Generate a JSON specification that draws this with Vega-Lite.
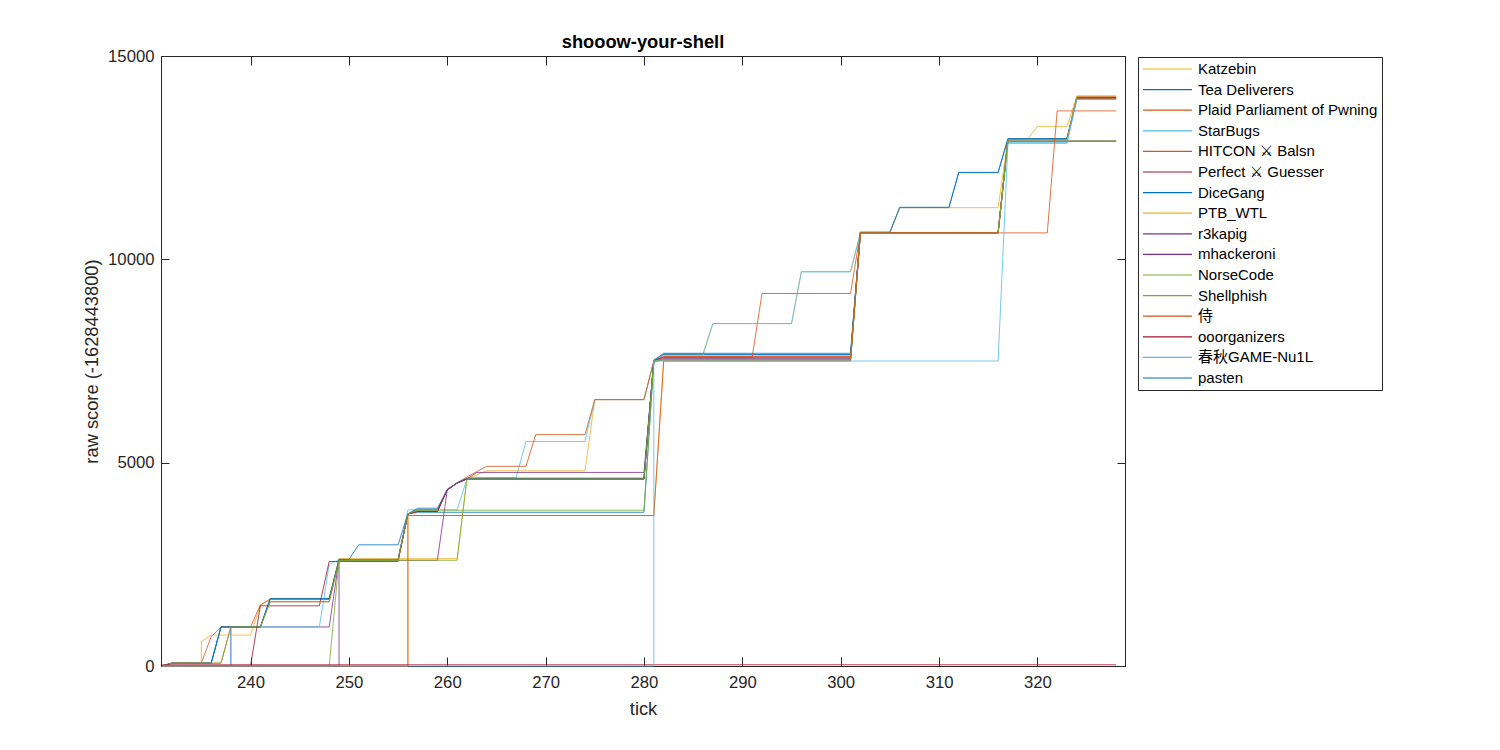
{
"$schema":"https://vega.github.io/schema/vega-lite/v6.json",
"width":964,"height":610,
"autosize":{"type":"none"},
"padding":{"left":161,"top":56,"right":375,"bottom":84},
"background":"white",
"title":{"text":"shooow-your-shell","fontSize":18.3,"fontWeight":"bold","font":"Liberation Sans, DejaVu Sans, sans-serif","color":"#000000","offset":-4,"anchor":"middle"},
"data":{"values":[
{"team":"pasten","i":0,"t":231,"v":0},{"team":"pasten","i":1,"t":232,"v":70},{"team":"pasten","i":2,"t":236,"v":70},{"team":"pasten","i":3,"t":237,"v":960},{"team":"pasten","i":4,"t":241,"v":960},{"team":"pasten","i":5,"t":242,"v":1650},{"team":"pasten","i":6,"t":248,"v":1650},{"team":"pasten","i":7,"t":249,"v":2620},{"team":"pasten","i":8,"t":255,"v":2620},{"team":"pasten","i":9,"t":256,"v":3740},{"team":"pasten","i":10,"t":257,"v":3780},{"team":"pasten","i":11,"t":280,"v":3780},{"team":"pasten","i":12,"t":281,"v":7500},{"team":"pasten","i":13,"t":282,"v":7650},{"team":"pasten","i":14,"t":301,"v":7650},{"team":"pasten","i":15,"t":302,"v":10660},{"team":"pasten","i":16,"t":316,"v":10660},{"team":"pasten","i":17,"t":317,"v":12950},{"team":"pasten","i":18,"t":323,"v":12950},{"team":"pasten","i":19,"t":324,"v":13960},{"team":"pasten","i":20,"t":328,"v":13960},
{"team":"r3kapig","i":0,"t":231,"v":0},{"team":"r3kapig","i":1,"t":238,"v":0},{"team":"r3kapig","i":2,"t":238,"v":960},{"team":"r3kapig","i":3,"t":248,"v":960},{"team":"r3kapig","i":4,"t":249,"v":2620},{"team":"r3kapig","i":5,"t":255,"v":2620},{"team":"r3kapig","i":6,"t":256,"v":3740},{"team":"r3kapig","i":7,"t":257,"v":3800},{"team":"r3kapig","i":8,"t":259,"v":3800},{"team":"r3kapig","i":9,"t":260,"v":4330},{"team":"r3kapig","i":10,"t":261,"v":4500},{"team":"r3kapig","i":11,"t":262,"v":4600},{"team":"r3kapig","i":12,"t":280,"v":4600},{"team":"r3kapig","i":13,"t":281,"v":7480},{"team":"r3kapig","i":14,"t":282,"v":7530},{"team":"r3kapig","i":15,"t":301,"v":7530},{"team":"r3kapig","i":16,"t":302,"v":10640},{"team":"r3kapig","i":17,"t":316,"v":10640},{"team":"r3kapig","i":18,"t":317,"v":12900},{"team":"r3kapig","i":19,"t":328,"v":12900},
{"team":"Tea Deliverers","i":0,"t":231,"v":0},{"team":"Tea Deliverers","i":1,"t":232,"v":70},{"team":"Tea Deliverers","i":2,"t":236,"v":70},{"team":"Tea Deliverers","i":3,"t":237,"v":960},{"team":"Tea Deliverers","i":4,"t":241,"v":960},{"team":"Tea Deliverers","i":5,"t":242,"v":1650},{"team":"Tea Deliverers","i":6,"t":248,"v":1650},{"team":"Tea Deliverers","i":7,"t":249,"v":2620},{"team":"Tea Deliverers","i":8,"t":255,"v":2620},{"team":"Tea Deliverers","i":9,"t":256,"v":3740},{"team":"Tea Deliverers","i":10,"t":257,"v":3850},{"team":"Tea Deliverers","i":11,"t":259,"v":3850},{"team":"Tea Deliverers","i":12,"t":260,"v":4330},{"team":"Tea Deliverers","i":13,"t":261,"v":4500},{"team":"Tea Deliverers","i":14,"t":262,"v":4600},{"team":"Tea Deliverers","i":15,"t":280,"v":4600},{"team":"Tea Deliverers","i":16,"t":281,"v":7520},{"team":"Tea Deliverers","i":17,"t":282,"v":7660},{"team":"Tea Deliverers","i":18,"t":301,"v":7660},{"team":"Tea Deliverers","i":19,"t":302,"v":10660},{"team":"Tea Deliverers","i":20,"t":305,"v":10660},{"team":"Tea Deliverers","i":21,"t":306,"v":11270},{"team":"Tea Deliverers","i":22,"t":311,"v":11270},{"team":"Tea Deliverers","i":23,"t":312,"v":12130},{"team":"Tea Deliverers","i":24,"t":316,"v":12130},{"team":"Tea Deliverers","i":25,"t":317,"v":12960},{"team":"Tea Deliverers","i":26,"t":323,"v":12960},{"team":"Tea Deliverers","i":27,"t":324,"v":13960},{"team":"Tea Deliverers","i":28,"t":328,"v":13960},
{"team":"Katzebin","i":0,"t":231,"v":0},{"team":"Katzebin","i":1,"t":232,"v":70},{"team":"Katzebin","i":2,"t":235,"v":70},{"team":"Katzebin","i":3,"t":235,"v":600},{"team":"Katzebin","i":4,"t":236,"v":760},{"team":"Katzebin","i":5,"t":240,"v":760},{"team":"Katzebin","i":6,"t":241,"v":1500},{"team":"Katzebin","i":7,"t":242,"v":1650},{"team":"Katzebin","i":8,"t":248,"v":1650},{"team":"Katzebin","i":9,"t":249,"v":2640},{"team":"Katzebin","i":10,"t":261,"v":2640},{"team":"Katzebin","i":11,"t":262,"v":4600},{"team":"Katzebin","i":12,"t":264,"v":4800},{"team":"Katzebin","i":13,"t":274,"v":4800},{"team":"Katzebin","i":14,"t":275,"v":6550},{"team":"Katzebin","i":15,"t":280,"v":6550},{"team":"Katzebin","i":16,"t":281,"v":7500},{"team":"Katzebin","i":17,"t":282,"v":7640},{"team":"Katzebin","i":18,"t":286,"v":7640},{"team":"Katzebin","i":19,"t":287,"v":8420},{"team":"Katzebin","i":20,"t":295,"v":8420},{"team":"Katzebin","i":21,"t":296,"v":9700},{"team":"Katzebin","i":22,"t":301,"v":9700},{"team":"Katzebin","i":23,"t":302,"v":10650},{"team":"Katzebin","i":24,"t":305,"v":10650},{"team":"Katzebin","i":25,"t":306,"v":11270},{"team":"Katzebin","i":26,"t":316,"v":11270},{"team":"Katzebin","i":27,"t":317,"v":12950},{"team":"Katzebin","i":28,"t":319,"v":12950},{"team":"Katzebin","i":29,"t":320,"v":13270},{"team":"Katzebin","i":30,"t":323,"v":13270},{"team":"Katzebin","i":31,"t":324,"v":14010},{"team":"Katzebin","i":32,"t":328,"v":14010},
{"team":"Plaid Parliament of Pwning","i":0,"t":231,"v":0},{"team":"Plaid Parliament of Pwning","i":1,"t":232,"v":70},{"team":"Plaid Parliament of Pwning","i":2,"t":235,"v":70},{"team":"Plaid Parliament of Pwning","i":3,"t":236,"v":720},{"team":"Plaid Parliament of Pwning","i":4,"t":237,"v":960},{"team":"Plaid Parliament of Pwning","i":5,"t":240,"v":960},{"team":"Plaid Parliament of Pwning","i":6,"t":241,"v":1500},{"team":"Plaid Parliament of Pwning","i":7,"t":242,"v":1640},{"team":"Plaid Parliament of Pwning","i":8,"t":248,"v":1640},{"team":"Plaid Parliament of Pwning","i":9,"t":249,"v":2610},{"team":"Plaid Parliament of Pwning","i":10,"t":255,"v":2610},{"team":"Plaid Parliament of Pwning","i":11,"t":256,"v":3740},{"team":"Plaid Parliament of Pwning","i":12,"t":257,"v":3820},{"team":"Plaid Parliament of Pwning","i":13,"t":259,"v":3820},{"team":"Plaid Parliament of Pwning","i":14,"t":260,"v":4350},{"team":"Plaid Parliament of Pwning","i":15,"t":261,"v":4500},{"team":"Plaid Parliament of Pwning","i":16,"t":262,"v":4600},{"team":"Plaid Parliament of Pwning","i":17,"t":280,"v":4600},{"team":"Plaid Parliament of Pwning","i":18,"t":281,"v":7500},{"team":"Plaid Parliament of Pwning","i":19,"t":282,"v":7600},{"team":"Plaid Parliament of Pwning","i":20,"t":291,"v":7600},{"team":"Plaid Parliament of Pwning","i":21,"t":292,"v":9160},{"team":"Plaid Parliament of Pwning","i":22,"t":301,"v":9160},{"team":"Plaid Parliament of Pwning","i":23,"t":302,"v":10660},{"team":"Plaid Parliament of Pwning","i":24,"t":316,"v":10660},{"team":"Plaid Parliament of Pwning","i":25,"t":317,"v":12950},{"team":"Plaid Parliament of Pwning","i":26,"t":323,"v":12950},{"team":"Plaid Parliament of Pwning","i":27,"t":324,"v":13970},{"team":"Plaid Parliament of Pwning","i":28,"t":328,"v":13970},
{"team":"StarBugs","i":0,"t":231,"v":0},{"team":"StarBugs","i":1,"t":238,"v":0},{"team":"StarBugs","i":2,"t":238,"v":960},{"team":"StarBugs","i":3,"t":247,"v":960},{"team":"StarBugs","i":4,"t":248,"v":2500},{"team":"StarBugs","i":5,"t":249,"v":2620},{"team":"StarBugs","i":6,"t":255,"v":2620},{"team":"StarBugs","i":7,"t":256,"v":3840},{"team":"StarBugs","i":8,"t":261,"v":3840},{"team":"StarBugs","i":9,"t":262,"v":4600},{"team":"StarBugs","i":10,"t":263,"v":4630},{"team":"StarBugs","i":11,"t":267,"v":4630},{"team":"StarBugs","i":12,"t":268,"v":5520},{"team":"StarBugs","i":13,"t":274,"v":5520},{"team":"StarBugs","i":14,"t":275,"v":6550},{"team":"StarBugs","i":15,"t":280,"v":6550},{"team":"StarBugs","i":16,"t":281,"v":7500},{"team":"StarBugs","i":17,"t":282,"v":7680},{"team":"StarBugs","i":18,"t":286,"v":7680},{"team":"StarBugs","i":19,"t":287,"v":8420},{"team":"StarBugs","i":20,"t":295,"v":8420},{"team":"StarBugs","i":21,"t":296,"v":9690},{"team":"StarBugs","i":22,"t":301,"v":9690},{"team":"StarBugs","i":23,"t":302,"v":10650},{"team":"StarBugs","i":24,"t":316,"v":10650},{"team":"StarBugs","i":25,"t":317,"v":12870},{"team":"StarBugs","i":26,"t":323,"v":12870},{"team":"StarBugs","i":27,"t":324,"v":13940},{"team":"StarBugs","i":28,"t":328,"v":13940},
{"team":"HITCON ⚔ Balsn","i":0,"t":231,"v":0},{"team":"HITCON ⚔ Balsn","i":1,"t":232,"v":70},{"team":"HITCON ⚔ Balsn","i":2,"t":237,"v":70},{"team":"HITCON ⚔ Balsn","i":3,"t":238,"v":960},{"team":"HITCON ⚔ Balsn","i":4,"t":241,"v":960},{"team":"HITCON ⚔ Balsn","i":5,"t":242,"v":1580},{"team":"HITCON ⚔ Balsn","i":6,"t":248,"v":1580},{"team":"HITCON ⚔ Balsn","i":7,"t":249,"v":2600},{"team":"HITCON ⚔ Balsn","i":8,"t":255,"v":2600},{"team":"HITCON ⚔ Balsn","i":9,"t":256,"v":3740},{"team":"HITCON ⚔ Balsn","i":10,"t":257,"v":3800},{"team":"HITCON ⚔ Balsn","i":11,"t":259,"v":3800},{"team":"HITCON ⚔ Balsn","i":12,"t":260,"v":4330},{"team":"HITCON ⚔ Balsn","i":13,"t":261,"v":4500},{"team":"HITCON ⚔ Balsn","i":14,"t":262,"v":4650},{"team":"HITCON ⚔ Balsn","i":15,"t":264,"v":4910},{"team":"HITCON ⚔ Balsn","i":16,"t":268,"v":4910},{"team":"HITCON ⚔ Balsn","i":17,"t":269,"v":5690},{"team":"HITCON ⚔ Balsn","i":18,"t":274,"v":5690},{"team":"HITCON ⚔ Balsn","i":19,"t":275,"v":6550},{"team":"HITCON ⚔ Balsn","i":20,"t":280,"v":6550},{"team":"HITCON ⚔ Balsn","i":21,"t":281,"v":7500},{"team":"HITCON ⚔ Balsn","i":22,"t":282,"v":7610},{"team":"HITCON ⚔ Balsn","i":23,"t":301,"v":7610},{"team":"HITCON ⚔ Balsn","i":24,"t":302,"v":10660},{"team":"HITCON ⚔ Balsn","i":25,"t":316,"v":10660},{"team":"HITCON ⚔ Balsn","i":26,"t":317,"v":12950},{"team":"HITCON ⚔ Balsn","i":27,"t":323,"v":12950},{"team":"HITCON ⚔ Balsn","i":28,"t":324,"v":13950},{"team":"HITCON ⚔ Balsn","i":29,"t":328,"v":13950},
{"team":"Perfect ⚔ Guesser","i":0,"t":231,"v":0},{"team":"Perfect ⚔ Guesser","i":1,"t":240,"v":0},{"team":"Perfect ⚔ Guesser","i":2,"t":241,"v":1480},{"team":"Perfect ⚔ Guesser","i":3,"t":247,"v":1480},{"team":"Perfect ⚔ Guesser","i":4,"t":248,"v":2570},{"team":"Perfect ⚔ Guesser","i":5,"t":255,"v":2570},{"team":"Perfect ⚔ Guesser","i":6,"t":256,"v":3740},{"team":"Perfect ⚔ Guesser","i":7,"t":257,"v":3800},{"team":"Perfect ⚔ Guesser","i":8,"t":259,"v":3800},{"team":"Perfect ⚔ Guesser","i":9,"t":260,"v":4330},{"team":"Perfect ⚔ Guesser","i":10,"t":261,"v":4500},{"team":"Perfect ⚔ Guesser","i":11,"t":262,"v":4600},{"team":"Perfect ⚔ Guesser","i":12,"t":280,"v":4600},{"team":"Perfect ⚔ Guesser","i":13,"t":281,"v":7500},{"team":"Perfect ⚔ Guesser","i":14,"t":282,"v":7590},{"team":"Perfect ⚔ Guesser","i":15,"t":301,"v":7590},{"team":"Perfect ⚔ Guesser","i":16,"t":302,"v":10660},{"team":"Perfect ⚔ Guesser","i":17,"t":316,"v":10660},{"team":"Perfect ⚔ Guesser","i":18,"t":317,"v":12950},{"team":"Perfect ⚔ Guesser","i":19,"t":323,"v":12950},{"team":"Perfect ⚔ Guesser","i":20,"t":324,"v":13990},{"team":"Perfect ⚔ Guesser","i":21,"t":328,"v":13990},
{"team":"DiceGang","i":0,"t":231,"v":0},{"team":"DiceGang","i":1,"t":232,"v":70},{"team":"DiceGang","i":2,"t":236,"v":70},{"team":"DiceGang","i":3,"t":237,"v":960},{"team":"DiceGang","i":4,"t":241,"v":960},{"team":"DiceGang","i":5,"t":242,"v":1660},{"team":"DiceGang","i":6,"t":248,"v":1660},{"team":"DiceGang","i":7,"t":249,"v":2620},{"team":"DiceGang","i":8,"t":250,"v":2620},{"team":"DiceGang","i":9,"t":251,"v":2980},{"team":"DiceGang","i":10,"t":255,"v":2980},{"team":"DiceGang","i":11,"t":256,"v":3740},{"team":"DiceGang","i":12,"t":257,"v":3880},{"team":"DiceGang","i":13,"t":259,"v":3880},{"team":"DiceGang","i":14,"t":260,"v":4330},{"team":"DiceGang","i":15,"t":261,"v":4500},{"team":"DiceGang","i":16,"t":262,"v":4620},{"team":"DiceGang","i":17,"t":280,"v":4620},{"team":"DiceGang","i":18,"t":281,"v":7520},{"team":"DiceGang","i":19,"t":282,"v":7690},{"team":"DiceGang","i":20,"t":301,"v":7690},{"team":"DiceGang","i":21,"t":302,"v":10670},{"team":"DiceGang","i":22,"t":305,"v":10670},{"team":"DiceGang","i":23,"t":306,"v":11280},{"team":"DiceGang","i":24,"t":311,"v":11280},{"team":"DiceGang","i":25,"t":312,"v":12140},{"team":"DiceGang","i":26,"t":316,"v":12140},{"team":"DiceGang","i":27,"t":317,"v":12970},{"team":"DiceGang","i":28,"t":323,"v":12970},{"team":"DiceGang","i":29,"t":324,"v":13980},{"team":"DiceGang","i":30,"t":328,"v":13980},
{"team":"PTB_WTL","i":0,"t":231,"v":0},{"team":"PTB_WTL","i":1,"t":256,"v":0},{"team":"PTB_WTL","i":2,"t":256,"v":3700},{"team":"PTB_WTL","i":3,"t":281,"v":3700},{"team":"PTB_WTL","i":4,"t":282,"v":7500},{"team":"PTB_WTL","i":5,"t":301,"v":7500},{"team":"PTB_WTL","i":6,"t":302,"v":10650},{"team":"PTB_WTL","i":7,"t":316,"v":10650},{"team":"PTB_WTL","i":8,"t":317,"v":12940},{"team":"PTB_WTL","i":9,"t":323,"v":12940},{"team":"PTB_WTL","i":10,"t":324,"v":14020},{"team":"PTB_WTL","i":11,"t":328,"v":14020},
{"team":"mhackeroni","i":0,"t":231,"v":0},{"team":"mhackeroni","i":1,"t":249,"v":0},{"team":"mhackeroni","i":2,"t":249,"v":2600},{"team":"mhackeroni","i":3,"t":259,"v":2600},{"team":"mhackeroni","i":4,"t":260,"v":4330},{"team":"mhackeroni","i":5,"t":261,"v":4500},{"team":"mhackeroni","i":6,"t":262,"v":4600},{"team":"mhackeroni","i":7,"t":263,"v":4760},{"team":"mhackeroni","i":8,"t":280,"v":4760},{"team":"mhackeroni","i":9,"t":281,"v":7500},{"team":"mhackeroni","i":10,"t":282,"v":7560},{"team":"mhackeroni","i":11,"t":301,"v":7560},{"team":"mhackeroni","i":12,"t":302,"v":10650},{"team":"mhackeroni","i":13,"t":316,"v":10650},{"team":"mhackeroni","i":14,"t":317,"v":12910},{"team":"mhackeroni","i":15,"t":328,"v":12910},
{"team":"NorseCode","i":0,"t":231,"v":0},{"team":"NorseCode","i":1,"t":248,"v":0},{"team":"NorseCode","i":2,"t":249,"v":2600},{"team":"NorseCode","i":3,"t":261,"v":2600},{"team":"NorseCode","i":4,"t":262,"v":4600},{"team":"NorseCode","i":5,"t":280,"v":4600},{"team":"NorseCode","i":6,"t":281,"v":7500},{"team":"NorseCode","i":7,"t":282,"v":7520},{"team":"NorseCode","i":8,"t":301,"v":7520},{"team":"NorseCode","i":9,"t":302,"v":10640},{"team":"NorseCode","i":10,"t":316,"v":10640},{"team":"NorseCode","i":11,"t":317,"v":12900},{"team":"NorseCode","i":12,"t":328,"v":12900},
{"team":"Shellphish","i":0,"t":231,"v":0},{"team":"Shellphish","i":1,"t":232,"v":70},{"team":"Shellphish","i":2,"t":237,"v":70},{"team":"Shellphish","i":3,"t":238,"v":960},{"team":"Shellphish","i":4,"t":241,"v":960},{"team":"Shellphish","i":5,"t":242,"v":1580},{"team":"Shellphish","i":6,"t":248,"v":1580},{"team":"Shellphish","i":7,"t":249,"v":2600},{"team":"Shellphish","i":8,"t":255,"v":2600},{"team":"Shellphish","i":9,"t":256,"v":3740},{"team":"Shellphish","i":10,"t":257,"v":3830},{"team":"Shellphish","i":11,"t":280,"v":3830},{"team":"Shellphish","i":12,"t":281,"v":7500},{"team":"Shellphish","i":13,"t":282,"v":7540},{"team":"Shellphish","i":14,"t":301,"v":7540},{"team":"Shellphish","i":15,"t":302,"v":10650},{"team":"Shellphish","i":16,"t":316,"v":10650},{"team":"Shellphish","i":17,"t":317,"v":12910},{"team":"Shellphish","i":18,"t":328,"v":12910},
{"team":"侍","i":0,"t":231,"v":0},{"team":"侍","i":1,"t":256,"v":0},{"team":"侍","i":2,"t":256,"v":3700},{"team":"侍","i":3,"t":281,"v":3700},{"team":"侍","i":4,"t":282,"v":7500},{"team":"侍","i":5,"t":301,"v":7500},{"team":"侍","i":6,"t":302,"v":10650},{"team":"侍","i":7,"t":321,"v":10650},{"team":"侍","i":8,"t":322,"v":13650},{"team":"侍","i":9,"t":328,"v":13650},
{"team":"ooorganizers","i":0,"t":231,"v":30},{"team":"ooorganizers","i":1,"t":328,"v":30},
{"team":"春秋GAME-Nu1L","i":0,"t":231,"v":0},{"team":"春秋GAME-Nu1L","i":1,"t":281,"v":0},{"team":"春秋GAME-Nu1L","i":2,"t":281,"v":7500},{"team":"春秋GAME-Nu1L","i":3,"t":316,"v":7500},{"team":"春秋GAME-Nu1L","i":4,"t":317,"v":12850},{"team":"春秋GAME-Nu1L","i":5,"t":323,"v":12850},{"team":"春秋GAME-Nu1L","i":6,"t":324,"v":13930},{"team":"春秋GAME-Nu1L","i":7,"t":328,"v":13930}
]},
"layer":[
{"mark":{"type":"line","strokeWidth":1,"opacity":0.8},
 "encoding":{
  "x":{"field":"t","type":"quantitative","scale":{"domain":[230.9,328.9],"nice":false,"zero":false},
       "axis":{"orient":"bottom","values":[240,250,260,270,280,290,300,310,320],"tickSize":-9,"labelPadding":17,"title":"tick","titlePadding":10}},
  "y":{"field":"v","type":"quantitative","scale":{"domain":[0,15000],"nice":false},
       "axis":{"orient":"left","values":[0,5000,10000,15000],"format":"d","tickSize":-8,"labelPadding":15,"title":"raw score (-1628443800)","titlePadding":6}},
  "color":{"field":"team","type":"nominal",
    "scale":{"domain":["Katzebin","Tea Deliverers","Plaid Parliament of Pwning","StarBugs","HITCON ⚔ Balsn","Perfect ⚔ Guesser","DiceGang","PTB_WTL","r3kapig","mhackeroni","NorseCode","Shellphish","侍","ooorganizers","春秋GAME-Nu1L","pasten"],
             "range":["#EDB120","#0072BD","#D95319","#4DBEEE","#D95319","#A2142F","#0072BD","#EDB120","#7E2F8E","#7E2F8E","#77AC30","#77AC30","#D95319","#A2142F","#4DBEEE","#0072BD"]},
    "legend":{"orient":"none","legendX":977,"legendY":1,"title":null,"symbolType":"stroke","symbolSize":2401,"symbolStrokeWidth":1.2,"symbolOpacity":1,"clipHeight":16,"rowPadding":4.6,"labelOffset":5,"padding":4,"labelLimit":400,"strokeColor":"#262626","fillColor":"white","labelFontSize":15,"labelColor":"#000000","labelFont":"Liberation Sans, DejaVu Sans, Noto Sans CJK SC, sans-serif"}},
  "order":{"field":"i","type":"quantitative"}
 }},
{"mark":{"type":"point","opacity":0},
 "encoding":{
  "x":{"field":"t","type":"quantitative","axis":{"orient":"top","values":[240,250,260,270,280,290,300,310,320],"tickSize":-9,"labels":false,"title":null}},
  "y":{"field":"v","type":"quantitative","axis":{"orient":"right","values":[0,5000,10000,15000],"tickSize":-8,"labels":false,"title":null}}
 }}
],
"resolve":{"axis":{"x":"independent","y":"independent"}},
"config":{
 "view":{"stroke":"#262626","strokeWidth":1},
 "axis":{"grid":false,"domainColor":"#262626","tickColor":"#262626","labelColor":"#262626","titleColor":"#262626","labelFont":"Liberation Sans, DejaVu Sans, sans-serif","titleFont":"Liberation Sans, DejaVu Sans, sans-serif","labelFontSize":16.7,"titleFontSize":18.3,"titleFontWeight":"normal","domainWidth":1,"tickWidth":1}
}
}
